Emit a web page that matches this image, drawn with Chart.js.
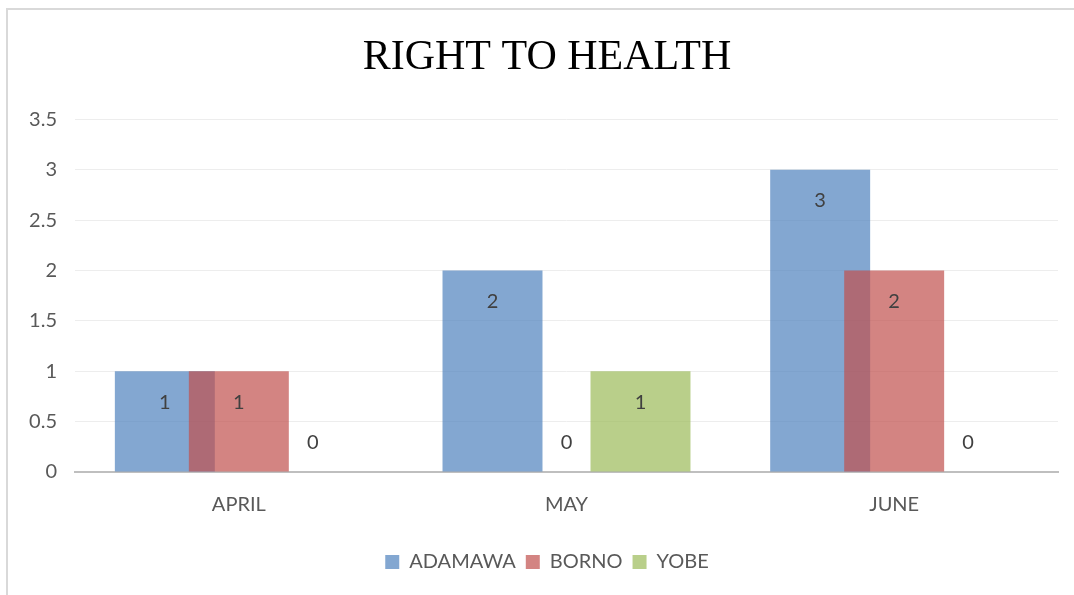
<!DOCTYPE html>
<html>
<head>
<meta charset="utf-8">
<script src="https://cdn.jsdelivr.net/npm/chart.js@4.4.1/dist/chart.umd.min.js"></script>
<style>
  html, body { margin: 0; padding: 0; background: #ffffff; }
  #wrap { width: 1074px; height: 595px; position: relative; }
</style>
</head>
<body>
<div id="wrap"><canvas id="c" width="1074" height="595"></canvas></div>
<script>
const categories = ["APRIL", "MAY", "JUNE"];
const adamawa = [1, 2, 3];
const borno = [1, 0, 2];
const yobe = [0, 1, 0];
const seriesNames = ["ADAMAWA", "BORNO", "YOBE"];
const chartTitle = "RIGHT TO HEALTH";

const sansFont = "Lato, 'Open Sans', sans-serif";
const textSize = 20;

const frame = {
  id: 'frame',
  beforeDraw(chart) {
    const ctx = chart.ctx;
    ctx.save();
    ctx.strokeStyle = '#d9d9d9';
    ctx.lineWidth = 2;
    ctx.beginPath();
    ctx.moveTo(7, 595);
    ctx.lineTo(7, 9);
    ctx.lineTo(1074, 9);
    ctx.stroke();
    ctx.restore();
  }
};

// Draw datasets in their natural order so later series overlap earlier ones (Excel style)
const drawOrder = {
  id: 'drawOrder',
  beforeDatasetDraw(chart, args) {
    if (!chart.$manualDraw) return false;
  },
  afterDatasetsDraw(chart) {
    chart.$manualDraw = true;
    const area = chart.chartArea;
    const ctx = chart.ctx;
    for (let i = 0; i < chart.data.datasets.length; i++) {
      const meta = chart.getDatasetMeta(i);
      if (!meta.visible) continue;
      ctx.save();
      ctx.beginPath();
      ctx.rect(area.left, area.top - 2, area.right - area.left, area.bottom - area.top + 2);
      ctx.clip();
      meta.controller.draw();
      ctx.restore();
    }
    chart.$manualDraw = false;

    // data labels
    ctx.save();
    ctx.font = textSize + "px " + sansFont;
    ctx.fillStyle = '#404040';
    ctx.textAlign = 'center';
    ctx.textBaseline = 'middle';
    chart.data.datasets.forEach((ds, di) => {
      const meta = chart.getDatasetMeta(di);
      meta.data.forEach((bar, i) => {
        const v = ds.data[i];
        const y = v > 0 ? bar.y + 31 : bar.base - 29;
        ctx.fillText(String(v), bar.x, y);
      });
    });
    ctx.restore();
  }
};

new Chart(document.getElementById('c'), {
  type: 'bar',
  data: {
    labels: categories,
    datasets: [
      { label: seriesNames[0], data: adamawa, backgroundColor: 'rgba(79,129,189,0.7)' },
      { label: seriesNames[1], data: borno, backgroundColor: 'rgba(192,80,77,0.7)' },
      { label: seriesNames[2], data: yobe, backgroundColor: 'rgba(155,187,89,0.7)' }
    ]
  },
  options: {
    responsive: false,
    animation: false,
    devicePixelRatio: 1,
    datasets: { bar: { categoryPercentage: 0.6775, barPercentage: 1.351 } },
    layout: { padding: { left: 20, right: 0, top: 0, bottom: 13 } },
    plugins: {
      title: {
        display: true,
        text: chartTitle,
        color: '#000000',
        font: { family: "'Liberation Serif', 'Times New Roman', serif", size: 42, weight: 'normal' },
        padding: { top: 33, bottom: 36 }
      },
      legend: {
        position: 'bottom',
        labels: {
          color: '#595959',
          font: { family: sansFont, size: textSize },
          boxWidth: 14,
          boxHeight: 14,
          padding: 10
        }
      },
      tooltip: { enabled: false }
    },
    scales: {
      x: {
        grid: { display: false, drawTicks: false },
        border: { display: true, color: '#bfbfbf', width: 2 },
        ticks: { color: '#595959', font: { family: sansFont, size: textSize }, padding: 21 },
        afterFit(scale) { scale.height = 70; }
      },
      y: {
        min: 0,
        max: 3.5,
        grid: { color: '#ededed', lineWidth: 1, drawTicks: false },
        border: { display: false },
        ticks: {
          stepSize: 0.5, color: '#595959', font: { family: sansFont, size: textSize }, padding: 18,
          callback: (v) => String(v)
        },
        afterFit(scale) { scale.width = 55; }
      },
      yRight: {
        type: 'linear',
        position: 'right',
        display: true,
        grid: { display: false, drawTicks: false },
        border: { display: false },
        ticks: { display: false },
        afterFit(scale) { scale.width = 16; }
      }
    }
  },
  plugins: [frame, drawOrder]
});
</script>
</body>
</html>
